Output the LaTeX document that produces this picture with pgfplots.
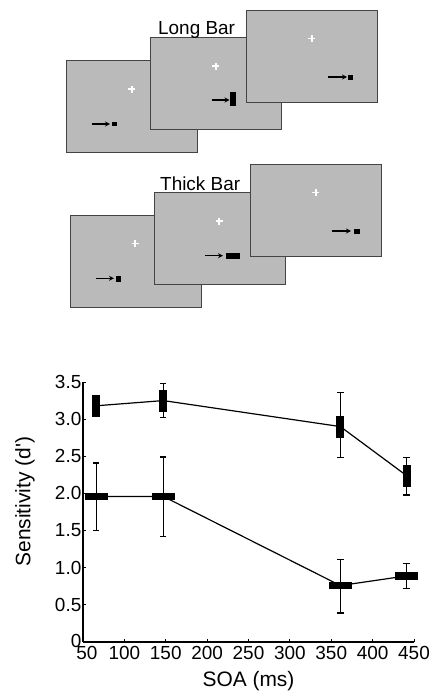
\documentclass[border=0pt]{standalone}
\usepackage{fontspec}
\setmainfont{Liberation Sans}
\usepackage{pgfplots}
\pgfplotsset{compat=1.18}
\usepackage{pgfplotstable}
\usetikzlibrary{arrows.meta}

\definecolor{panel}{HTML}{BABABA}
\definecolor{edge}{HTML}{444444}

% marker shapes: tall bar (long) and wide bar (thick)
\pgfdeclareplotmark{vrect}{\pgfpathrectangle{\pgfpoint{-4bp}{-11bp}}{\pgfpoint{8bp}{22bp}}\pgfusepathqfill}
\pgfdeclareplotmark{hrect}{\pgfpathrectangle{\pgfpoint{-11.5bp}{-3.8bp}}{\pgfpoint{23bp}{7.6bp}}\pgfusepathqfill}

\pgfplotstableread{
x   y     ep    em
66  3.18  0.08  0.08
147 3.25  0.23  0.23
361 2.90  0.46  0.42
441 2.24  0.24  0.26
}\longbar

\pgfplotstableread{
x   y     ep    em
66  1.96  0.45  0.46
147 1.96  0.53  0.54
361 0.76  0.35  0.37
441 0.89  0.17  0.17
}\thickbar

\newcommand{\panelbox}[2]{%
  \filldraw[fill=panel,draw=edge,line width=1bp] (#1,#2) rectangle ++(131,92);
  \draw[white,line width=1.8bp] (#1+65-3.5,#2+28.5) -- ++(7,0) (#1+65,#2+25) -- ++(0,7);
}

\begin{document}
\begin{tikzpicture}
\useasboundingbox (0,0) rectangle (438bp,-691bp);
\begin{scope}[x=1bp,y=-1bp,font=\fontsize{19}{19}\selectfont,
  arr/.style={line width=1.4bp,-{Stealth[length=5bp,width=5bp]}}]
  % long bar sequence
  \panelbox{66.7}{60.7}
  \draw[arr] (92.3,124) -- (110,124);
  \fill (112.3,121.7) rectangle (117,126.4);
  \panelbox{150.7}{37.7}
  \draw[arr] (212,100) -- (229.5,100);
  \fill (230,92) rectangle (236,106);
  \panelbox{246.7}{10}
  \draw[arr] (328.3,77) -- (347,77);
  \fill (348.3,75) rectangle (353.3,80);
  \node[anchor=base west,inner sep=0] at (158,34) {Long Bar};
  % thick bar sequence
  \panelbox{70.3}{215}
  \draw[arr] (96,278.3) -- (114,278.3);
  \fill (116,276) rectangle (120.7,281.5);
  \panelbox{154}{192.7}
  \draw[arr] (205,255.7) -- (223,255.7);
  \fill (226,253) rectangle (240.3,258.7);
  \panelbox{250.7}{164}
  \draw[arr] (332.3,231) -- (351,231);
  \fill (354.3,229) rectangle (359.7,234.3);
  \node[anchor=base west,inner sep=0] at (160,190.5) {Thick Bar};
\end{scope}

\begin{axis}[
  at={(83bp,-642bp)}, anchor=south west,
  scale only axis, width=331bp, height=260bp,
  xmin=50, xmax=450, ymin=0, ymax=3.5,
  axis x line=bottom, axis y line=left,
  axis line style={-, line width=1.3bp},
  tick align=inside, major tick length=3bp,
  tick style={line width=1bp, black},
  xtick={50,100,...,450},
  xticklabels={\hspace{8bp}50,100,150,200,250,300,350,400,450},
  ytick={0,0.5,...,3.5},
  yticklabels={\raisebox{3bp}{0}\hspace{9bp},0.5,1.0,1.5,2.0,2.5,3.0,3.5},
  tick label style={font=\fontsize{19}{19}\selectfont},
  yticklabel style={inner sep=1.5bp},
  xticklabel style={inner sep=4bp},
  xlabel={SOA (ms)},
  ylabel={Sensitivity (d\textquotesingle)},
  xlabel style={font=\fontsize{21}{21}\selectfont,
    at={(axis description cs:0.5,-0.15)}, anchor=center},
  ylabel style={font=\fontsize{21}{21}\selectfont,
    at={(axis description cs:-0.175,0.54)}, anchor=center},
  clip=false,
  error bars/y dir=both, error bars/y explicit,
  error bars/error bar style={line width=1.2bp, black},
  error bars/error mark options={rotate=90, line width=1.2bp, black, mark size=3.2bp},
]
\addplot[black, line width=1.2bp, mark=vrect]
  table[x=x, y=y, y error plus=ep, y error minus=em] {\longbar};
\addplot[black, line width=1.2bp, mark=hrect]
  table[x=x, y=y, y error plus=ep, y error minus=em] {\thickbar};
\end{axis}
\end{tikzpicture}
\end{document}
